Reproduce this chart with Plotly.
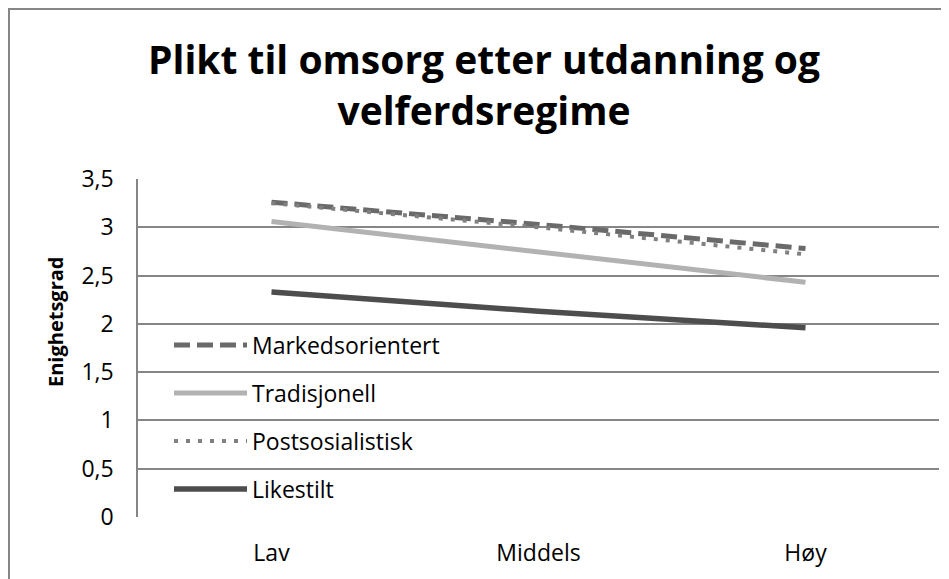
import plotly.graph_objects as go

categories = ["Lav", "Middels", "Høy"]
series_names = ["Markedsorientert", "Tradisjonell", "Postsosialistisk", "Likestilt"]
markedsorientert = [3.26, 3.03, 2.78]
tradisjonell = [3.06, 2.75, 2.43]
postsosialistisk = [3.25, 3.00, 2.72]
likestilt = [2.33, 2.13, 1.96]
y_ticks = [0, 0.5, 1, 1.5, 2, 2.5, 3, 3.5]
y_tick_labels = ["0", "0,5", "1", "1,5", "2", "2,5", "3", "3,5"]
title_text = "Plikt til omsorg etter utdanning og<br>velferdsregime"
y_title = "Enighetsgrad"

# page has an 8px body margin; work in page pixel coordinates
OFF = 8
W, H = 949, 579
PL, PR, PT, PB = 138, 939, 179, 517  # plot area in page pixels
L, T = PL - OFF, PT - OFF
R, B = W - (PR - OFF), H - (PB - OFF)
PW, PH = PR - PL, PB - PT

def px_x(px):
    return (px - PL) / PW

def px_y(py):
    return (PB - py) / PH

styles = [
    dict(color="#6a6a6a", width=5, dash="16px,7px"),
    dict(color="#b2b2b2", width=5, dash="solid"),
    dict(color="#808080", width=4, dash="4px,8px"),
    dict(color="#4d4d4d", width=5.5, dash="solid"),
]
data = [markedsorientert, tradisjonell, postsosialistisk, likestilt]

fig = go.Figure()
for i in [3, 1, 0, 2]:
    fig.add_trace(go.Scatter(
        x=categories, y=data[i], mode="lines", name=series_names[i],
        line=dict(color=styles[i]["color"], width=styles[i]["width"], dash=styles[i]["dash"]),
        showlegend=False, hoverinfo="skip",
    ))

shapes = []
annotations = []
shapes.append(dict(type="rect", xref="paper", yref="paper",
                   x0=px_x(9), x1=px_x(1000), y0=px_y(640), y1=px_y(9),
                   line=dict(color="#868686", width=2), layer="below"))
leg_y = [345, 393, 441, 489]
for i, name in enumerate(series_names):
    st = styles[i]
    shapes.append(dict(type="line", xref="paper", yref="paper",
                       x0=px_x(174), x1=px_x(247), y0=px_y(leg_y[i]), y1=px_y(leg_y[i]),
                       line=dict(color=st["color"], width=st["width"], dash=st["dash"])))
    annotations.append(dict(text=name, xref="paper", yref="paper",
                            x=px_x(250), y=px_y(leg_y[i]), xanchor="left", yanchor="middle",
                            showarrow=False, font=dict(family="Open Sans", size=23, color="#000000")))
annotations.append(dict(text="<b>" + y_title + "</b>", xref="paper", yref="paper",
                        x=px_x(55), y=px_y(322), textangle=-90, xanchor="center", yanchor="middle",
                        showarrow=False, font=dict(family="Open Sans", size=20, color="#000000")))

fig.update_layout(
    width=W, height=H,
    margin=dict(l=L, r=R, t=T, b=B, autoexpand=False),
    paper_bgcolor="white", plot_bgcolor="white",
    title=dict(text="<b>" + title_text + "</b>", x=(484 - OFF) / W, xanchor="center",
               y=1 - (74 - OFF) / H, yanchor="middle", yref="container",
               font=dict(family="Open Sans", size=39, color="#000000")),
    xaxis=dict(type="category", range=[-0.5, 2.5], showgrid=False, zeroline=False,
               showline=False, ticks="", ticklabelstandoff=20,
               tickfont=dict(family="Open Sans", size=23, color="#000000")),
    yaxis=dict(range=[0, 3.5], tickvals=y_ticks, ticktext=y_tick_labels,
               showgrid=True, gridcolor="#868686", gridwidth=1.5,
               zeroline=False, showline=True, linecolor="#868686", linewidth=1.5,
               ticks="", ticklabelstandoff=18,
               tickfont=dict(family="Open Sans", size=23, color="#000000")),
    shapes=shapes, annotations=annotations,
)
fig.write_html("out.html")
